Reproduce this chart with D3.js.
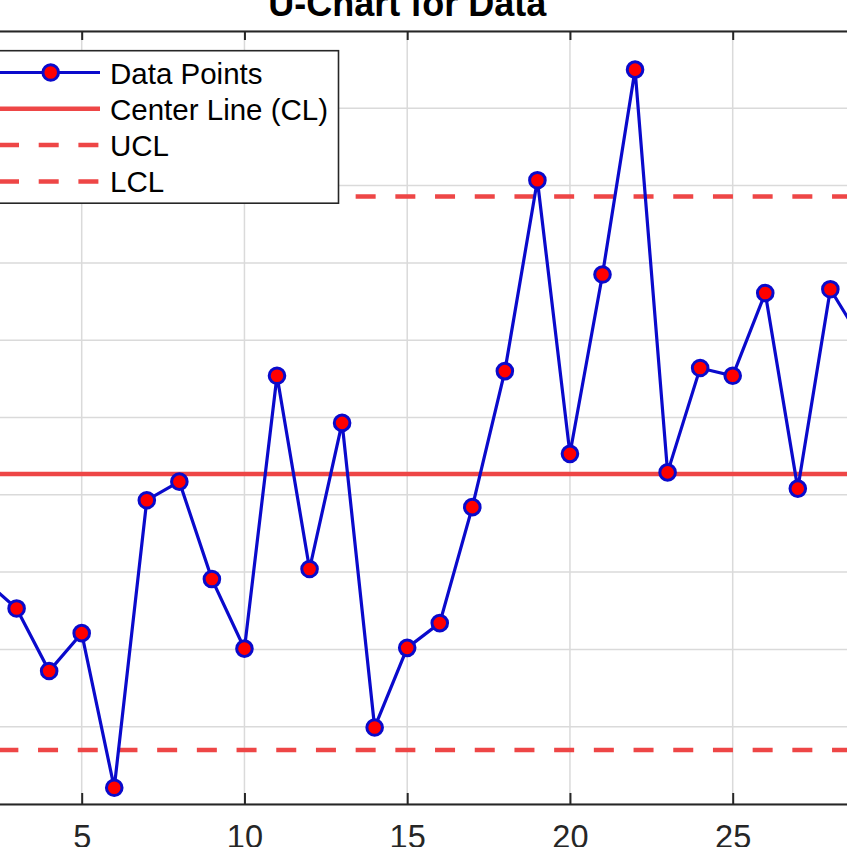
<!DOCTYPE html>
<html>
<head>
<meta charset="utf-8">
<script src="https://cdn.jsdelivr.net/npm/d3@7"></script>
<style>
  body { margin: 0; background: #fff; }
  svg { display: block; font-family: "Liberation Sans", Arial, sans-serif; }
</style>
</head>
<body>
<div id="chart"></div>
<script>
// sample number 1..30 and defects per unit
var samples = d3.range(1, 31);
var uValues = [0.45, 0.29, 0.253, 0.172, 0.221, 0.021, 0.393, 0.417, 0.291, 0.201,
               0.554, 0.304, 0.493, 0.099, 0.202, 0.234, 0.384, 0.560, 0.807, 0.453,
               0.685, 0.950, 0.429, 0.564, 0.554, 0.661, 0.408, 0.666, 0.597, 0.52];
var centerLine = 0.427;
var upperLimit = 0.786;
var lowerLimit = 0.070;

var xTicks = [0, 5, 10, 15, 20, 25, 30];
var yTicks = [0, 0.1, 0.2, 0.3, 0.4, 0.5, 0.6, 0.7, 0.8, 0.9, 1];
var legendLabels = ["Data Points", "Center Line (CL)", "UCL", "LCL"];

var W = 847, H = 847;
var blue = "#0a0acc";
var red = "#ee4646";
var axisColor = "#262626";

var svg = d3.select("#chart")
  .append("svg")
  .attr("width", W)
  .attr("height", H);

svg.append("rect").attr("width", W).attr("height", H).attr("fill", "#fff");

// the axes box runs off the left and right sides of the window
var x = d3.scaleLinear().domain([0, 30]).range([-81.05, 895.45]);
var y = d3.scaleLinear().domain([0, 1]).range([804, 31]);

// grid
svg.append("g").selectAll("line")
  .data(xTicks)
  .enter().append("line")
  .attr("x1", function(d) { return x(d); })
  .attr("x2", function(d) { return x(d); })
  .attr("y1", y(1))
  .attr("y2", y(0))
  .attr("stroke", "#dadada")
  .attr("stroke-width", 1.5);

svg.append("g").selectAll("line")
  .data(yTicks)
  .enter().append("line")
  .attr("x1", x(0))
  .attr("x2", x(30))
  .attr("y1", function(d) { return y(d); })
  .attr("y2", function(d) { return y(d); })
  .attr("stroke", "#dadada")
  .attr("stroke-width", 1.5);

// control lines
function hline(v, dashed) {
  svg.append("line")
    .attr("x1", x(0))
    .attr("x2", x(30))
    .attr("y1", y(v))
    .attr("y2", y(v))
    .attr("stroke", red)
    .attr("stroke-width", 4.5)
    .attr("stroke-dasharray", dashed ? "20 19.7" : null);
}
hline(centerLine, false);
hline(upperLimit, true);
hline(lowerLimit, true);

// data line + markers
var line = d3.line()
  .x(function(d, i) { return x(samples[i]); })
  .y(function(d) { return y(d); });

svg.append("path")
  .datum(uValues)
  .attr("d", line)
  .attr("fill", "none")
  .attr("stroke", blue)
  .attr("stroke-width", 3.2);

svg.append("g").selectAll("circle")
  .data(uValues)
  .enter().append("circle")
  .attr("cx", function(d, i) { return x(samples[i]); })
  .attr("cy", function(d) { return y(d); })
  .attr("r", 7.8)
  .attr("fill", "#ff0000")
  .attr("stroke", blue)
  .attr("stroke-width", 3);

// axes
var bottomAxis = svg.append("g")
  .attr("transform", "translate(0," + y(0) + ")")
  .call(d3.axisBottom(x).tickValues(xTicks).tickSizeInner(-11).tickSizeOuter(0).tickPadding(21));
var topAxis = svg.append("g")
  .attr("transform", "translate(0," + y(1) + ")")
  .call(d3.axisTop(x).tickValues(xTicks).tickSizeInner(-9).tickSizeOuter(0).tickFormat(""));

[bottomAxis, topAxis].forEach(function(g) {
  g.select(".domain").attr("stroke", axisColor).attr("stroke-width", 2);
  g.selectAll(".tick line").attr("stroke", axisColor).attr("stroke-width", 2);
});
bottomAxis.selectAll(".tick text")
  .attr("fill", axisColor)
  .style("font-family", "Liberation Sans, Arial, sans-serif")
  .style("font-size", "32.5px");

// title
svg.append("text")
  .attr("x", (x(0) + x(30)) / 2)
  .attr("y", 16)
  .attr("text-anchor", "middle")
  .attr("font-weight", "bold")
  .attr("font-size", 36)
  .attr("fill", "#000")
  .text("U-Chart for Data");

// legend
var legend = svg.append("g");
legend.append("rect")
  .attr("x", -20)
  .attr("y", 50.7)
  .attr("width", 358.5)
  .attr("height", 152.5)
  .attr("fill", "#fff")
  .attr("stroke", axisColor)
  .attr("stroke-width", 1.6);

var rowY = [72.5, 108.8, 145.1, 181.4];
var row = legend.selectAll(".entry")
  .data(legendLabels)
  .enter().append("g")
  .attr("class", "entry")
  .attr("transform", function(d, i) { return "translate(0," + rowY[i] + ")"; });

row.append("line")
  .attr("x1", function(d, i) { return i == 0 ? 0 : -1; })
  .attr("x2", 100)
  .attr("y1", 0)
  .attr("y2", 0)
  .attr("stroke", function(d, i) { return i == 0 ? blue : red; })
  .attr("stroke-width", function(d, i) { return i == 0 ? 3.2 : 4.5; })
  .attr("stroke-dasharray", function(d, i) { return i >= 2 ? "20 19.7" : null; });

legend.append("circle")
  .attr("cx", 50.7)
  .attr("cy", rowY[0])
  .attr("r", 7.8)
  .attr("fill", "#ff0000")
  .attr("stroke", blue)
  .attr("stroke-width", 3);

row.append("text")
  .attr("x", 110)
  .attr("y", 11)
  .attr("font-size", 29.5)
  .attr("fill", "#000")
  .text(function(d) { return d; });
</script>
</body>
</html>
